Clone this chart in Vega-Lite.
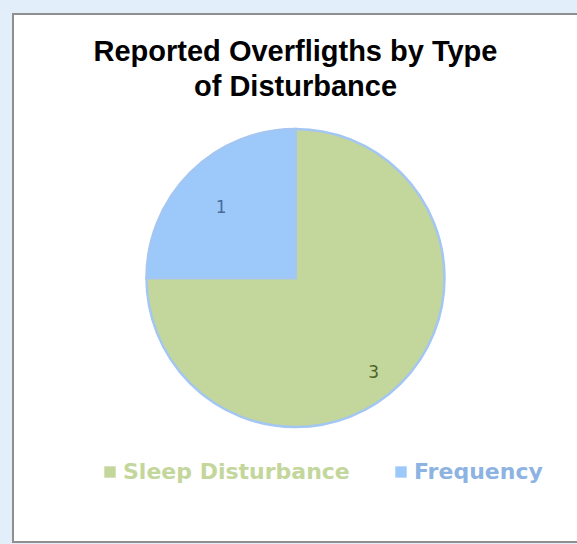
{
  "$schema": "https://vega.github.io/schema/vega-lite/v6.json",
  "autosize": "none",
  "width": 565,
  "height": 528,
  "padding": {"left": 13, "top": 14, "right": 0, "bottom": 2},
  "background": "#e3eefb",
  "view": {"stroke": "#8f8f8f", "strokeWidth": 2, "fill": "#ffffff"},
  "config": {
    "font": "Liberation Sans"
  },
  "title": {
    "text": ["Reported Overfligths by Type", "of Disturbance"],
    "fontSize": 29,
    "fontWeight": "bold",
    "font": "Liberation Sans",
    "color": "#000000",
    "anchor": "middle",
    "frame": "group",
    "offset": -88,
    "lineHeight": 35
  },
  "data": {
    "values": [
      {"type": "Sleep Disturbance", "count": 3, "o": 1},
      {"type": "Frequency", "count": 1, "o": 2}
    ]
  },
  "encoding": {
    "theta": {"field": "count", "type": "quantitative", "stack": true},
    "order": {"field": "o", "type": "quantitative"}
  },
  "layer": [
    {
      "mark": {"type": "arc", "outerRadius": 149, "stroke": "#a3c6f2", "strokeWidth": 2.5},
      "encoding": {
        "color": {
          "field": "type",
          "type": "nominal",
          "scale": {"domain": ["Sleep Disturbance", "Frequency"], "range": ["#c3d69b", "#9dc9fa"]},
          "legend": {
            "title": null,
            "orient": "none",
            "legendX": 86,
            "legendY": 447,
            "direction": "horizontal",
            "symbolType": "square",
            "symbolSize": 130,
            "symbolStrokeWidth": 0,
            "labelFontSize": 22,
            "labelFont": "DejaVu Sans",
            "labelFontWeight": "bold",
            "labelOffset": 2,
            "columnPadding": 40,
            "labelLimit": 400,
            "labelColor": {"expr": "datum.value === 'Frequency' ? '#8db3e2' : '#c3d69b'"}
          }
        }
      }
    },
    {
      "mark": {"type": "text", "radius": 105, "fontSize": 17, "font": "DejaVu Sans", "fill": "#4a6b9c", "dy": 4},
      "encoding": {
        "text": {"condition": {"test": "datum.type === 'Frequency'", "field": "count", "type": "quantitative"}, "value": ""}
      }
    },
    {
      "mark": {"type": "text", "radius": 122, "fontSize": 17, "font": "DejaVu Sans", "fill": "#4f6228", "dx": -8, "dy": 9},
      "encoding": {
        "text": {"condition": {"test": "datum.type === 'Sleep Disturbance'", "field": "count", "type": "quantitative"}, "value": ""}
      }
    }
  ]
}
